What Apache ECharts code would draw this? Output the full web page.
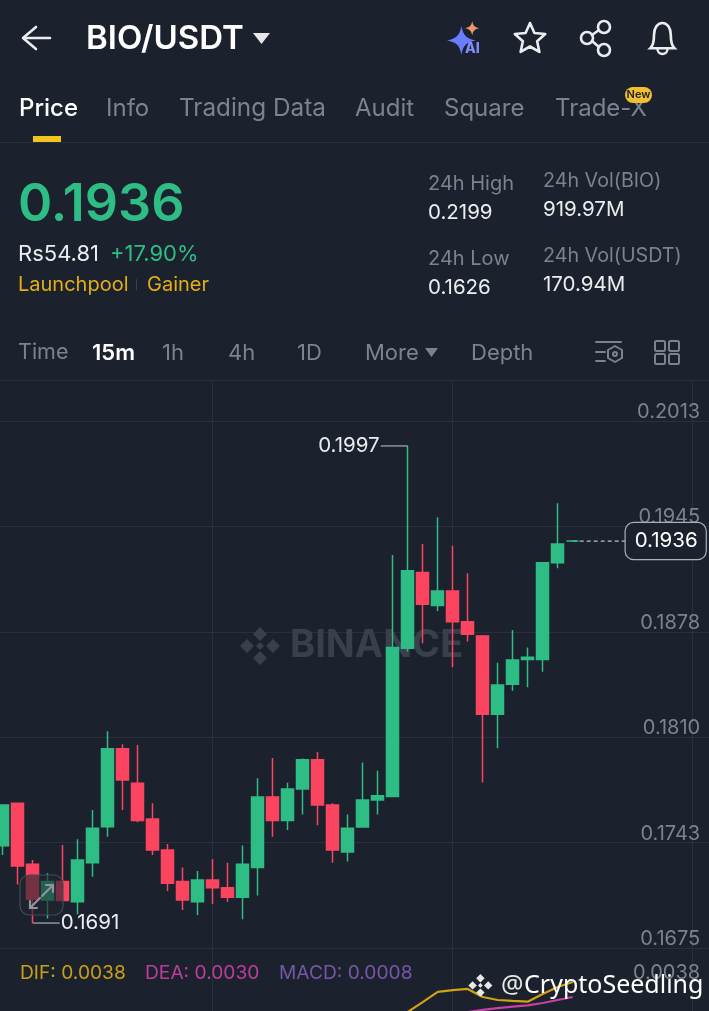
<!DOCTYPE html>
<html><head><meta charset="utf-8">
<style>html,body{margin:0;padding:0;background:#1c222d;overflow:hidden}#c{width:709px;height:1011px}</style>
<script src="https://cdn.jsdelivr.net/npm/echarts@6/dist/echarts.min.js"></script>
</head><body><div id="c"></div>
<script>
// [open, close, low, high] per 15m candle
const candles = [
[.17406,.17667,.17346,.17667],[.17678,.17276,.17158,.17678],[.17287,.17062,.16910,.17314],[.17058,.17176,.16940,.17229],
[.17176,.17054,.17054,.17411],[.17047,.17314,.16966,.17447],[.17297,.17518,.17207,.17635],[.17528,.18028,.17464,.18140],
[.18028,.17827,.17635,.18056],[.17806,.17567,.17556,.18052],[.17577,.17379,.17346,.17678],[.17379,.17165,.17116,.17417],
[.17176,.17058,.16994,.17267],[.17047,.17186,.16962,.17244],[.17186,.17137,.17032,.17319],[.17137,.17075,.17047,.17297],
[.17075,.17287,.16934,.17408],[.17267,.17718,.17086,.17838],[.17718,.17567,.17464,.17969],[.17567,.17770,.17507,.17810],
[.17770,.17958,.17607,.17966],[.17958,.17667,.17537,.18007],[.17667,.17379,.17297,.17678],[.17366,.17518,.17304,.17607],
[.17526,.17699,.17526,.17939],[.17699,.17727,.17607,.17887],[.17721,.18678,.17721,.19271],[.18672,.19170,.18651,.1997],
[.19159,.18954,.18704,.19341],[.18946,.19040,.18911,.19512],[.19040,.18843,.18550,.19330],[.18843,.18762,.18715,.19153],
[.18751,.18249,.17811,.18757],[.18249,.18437,.18031,.18580],[.18441,.18597,.18400,.18790],[.18601,.18614,.18422,.18678],
[.18601,.19221,.18522,.19221],[.19221,.19341,.19185,.19602],[.1936,.1936,.1936,.1936]];
const categories = ['c00','c01','c02','c03','c04','c05','c06','c07','c08','c09','c10','c11','c12','c13','c14','c15','c16','c17','c18','c19','c20','c21','c22','c23','c24','c25','c26','c27','c28','c29','c30','c31','c32','c33','c34','c35','c36','c37','c38','c39','c40','c41','c42','c43','c44','c45','c46','c47'];
const priceTicks = {min:.1675,max:.2013,step:.00676};
const lastPrice = [null,null,null,null,null,null,null,null,null,null,null,null,null,null,null,null,null,null,null,null,null,null,null,null,null,null,null,null,null,null,null,null,null,null,null,null,null,null,.1936,.1936,.1936,.1936,.1936];
const dif = [null,null,null,null,null,null,null,null,null,null,null,null,null,null,null,null,null,null,null,null,null,null,null,null,null,null,null,.00220,.00273,.00327,.00337,.00343,.0030,.00284,.00279,.00275,.00316,.00353,.0038];
const dea = [null,null,null,null,null,null,null,null,null,null,null,null,null,null,null,null,null,null,null,null,null,null,null,null,null,null,null,null,null,null,null,.0022,.00231,.00241,.00249,.00255,.00268,.00284,.0030];
const tabs = ['Price','Info','Trading Data','Audit','Square','Trade-X'];

const GREEN='#2EBD85',RED='#FB4560',GRAY='#7b8290',WHITE='#eaecef',YEL='#E3AE14',LINE='#2a303b';
const FF='Inter, "Noto Sans", sans-serif';
const STAR4='M12 0 C13.5 8 16 10.5 24 12 C16 13.5 13.5 16 12 24 C10.5 16 8 13.5 0 12 C8 10.5 10.5 8 12 0Z';
const BN2='M12 2.5 L15.5 6 L12 9.5 L8.5 6Z M5.5 8.5 L9 12 L5.5 15.5 L2 12Z M18.5 8.5 L22 12 L18.5 15.5 L15 12Z M12 10 L14 12 L12 14 L10 12Z M12 14.5 L15.5 18 L12 21.5 L8.5 18Z';
const BELL='M2 21 C5 18 5 14 5 10 C5 4 8 0 12 0 C16 0 19 4 19 10 C19 14 19 18 22 21Z';
echarts.graphic.registerShape('star4',echarts.graphic.extendPath(STAR4,{}));
echarts.graphic.registerShape('bnlogo',echarts.graphic.extendPath(BN2,{}));
echarts.graphic.registerShape('bell',echarts.graphic.extendPath(BELL,{}));

function t(text,x,y,size,fill,weight,z,ff,align){
  return {type:'text',z:z||50,silent:true,style:{text:text,x:x,y:y,fill:fill,font:(weight||400)+' '+size+'px '+(ff||FF),textAlign:align||'left',textVerticalAlign:'middle'}};
}
function st(shape,type,stroke,w,z,fill){
  return {type:type,z:z||50,silent:true,shape:shape,style:{stroke:stroke,lineWidth:w,fill:fill||'none',lineCap:'round',lineJoin:'round'}};
}
const pl=(pts,c,w,z)=>st({points:pts},'polyline',c,w,z);
const tri=(x1,x2,y1,y2,c)=>({type:'polygon',z:50,silent:true,shape:{points:[[x1,y1],[x2,y1],[(x1+x2)/2,y2]]},style:{fill:c}});
const pth=(name,x,y,s,fill,stroke,lw,z)=>({type:name,z:z||50,silent:true,x:x,y:y,scaleX:s,scaleY:s,style:{fill:fill||'none',stroke:stroke||'none',lineWidth:lw||0}});
function starPts(cx,cy,R,r){const p=[];for(let i=0;i<10;i++){const a=-Math.PI/2+i*Math.PI/5,q=i%2?r:R;p.push([cx+q*Math.cos(a),cy+q*Math.sin(a)]);}return p;}

const gfx=[
 pl([[50,38],[24,38]],WHITE,2.6), pl([[36,27],[23,38],[36,49]],WHITE,2.6),
 t('BIO/USDT',86,39,33,'#ffffff',600),
 tri(253,270,33,44,'#e4e6ea'),
 pth('star4',447,26,1.2,'#6a7dff'),
 pth('star4',465,21,0.6,'#f0966a'),
 t('AI',465,49,14,'#7f8cff',800),
 st({points:starPts(530,39,16,7.5)},'polygon',WHITE,2.6),
 st({cx:604,cy:27,r:6},'circle',WHITE,2.6), st({cx:587,cy:38,r:6},'circle',WHITE,2.6), st({cx:604,cy:50,r:6},'circle',WHITE,2.6),
 pl([[599,30],[592,35]],WHITE,2.6), pl([[592,41],[599,47]],WHITE,2.6),
 pth('bell',648,23,1.2,'none',WHITE,2.2),
 st({cx:662.5,cy:49,r:5,startAngle:0,endAngle:Math.PI},'arc',WHITE,2.4),
 t(tabs[0],19,109,24,'#ffffff',500),
 t(tabs[1],106,109,24,GRAY), t(tabs[2],179,109,24.3,GRAY), t(tabs[3],355,109,24,GRAY), t(tabs[4],444,109,24,GRAY), t(tabs[5],555,109,24,GRAY),
 {type:'rect',z:51,silent:true,shape:{x:625,y:87,width:27,height:16,r:8},style:{fill:'#F0C030'}},
 t('New',638.5,95,11,'#222',600,52,null,'center'),
 {type:'rect',z:50,silent:true,shape:{x:33,y:136,width:28,height:6},style:{fill:'#F0C61E'}},
 st({x1:0,y1:142.5,x2:709,y2:142.5},'line',LINE,1),
 t('0.1936',18,205,52,GREEN,600),
 t('Rs54.81',18,254,22,WHITE,400), t('+17.90%',110,254,22,GREEN,400),
 t('Launchpool',18,285,20,YEL,400), t('|',135,285,9,'#4a505c',400), t('Gainer',147,285,20,YEL,400),
 t('24h High',428,184,20,GRAY), t('0.2199',428,213,20.5,WHITE),
 t('24h Low',428,259,20,GRAY), t('0.1626',428,288,20.5,WHITE),
 t('24h Vol(BIO)',543,181,19.7,GRAY), t('919.97M',543,210,20.5,WHITE),
 t('24h Vol(USDT)',543,256,19.7,GRAY), t('170.94M',543,285,20.5,WHITE),
 t('Time',18,353,21.5,GRAY), t('15m',92,353,22,'#ffffff',600), t('1h',162,353,22,GRAY), t('4h',228,353,22,GRAY), t('1D',297,353,22,GRAY), t('More',365,353,22,GRAY),
 tri(425,438,348,357,GRAY), t('Depth',471,353,22,GRAY),
 pl([[596,342],[621,342]],GRAY,2), pl([[596,352],[605,352]],GRAY,2), pl([[596,361],[605,361]],GRAY,2),
 st({points:[[615,346],[622,350],[622,358],[615,362],[608,358],[608,350]]},'polygon',GRAY,2),
 st({cx:615,cy:354,r:2},'circle',GRAY,2),
 {type:'rect',z:50,silent:true,shape:{x:655,y:341,width:10,height:10,r:1.5},style:{stroke:GRAY,lineWidth:2,fill:'none'}},
 {type:'rect',z:50,silent:true,shape:{x:669,y:341,width:10,height:10,r:1.5},style:{stroke:GRAY,lineWidth:2,fill:'none'}},
 {type:'rect',z:50,silent:true,shape:{x:655,y:354,width:10,height:10,r:1.5},style:{stroke:GRAY,lineWidth:2,fill:'none'}},
 {type:'rect',z:50,silent:true,shape:{x:669,y:354,width:10,height:10,r:1.5},style:{stroke:GRAY,lineWidth:2,fill:'none'}},
 st({x1:0,y1:380.5,x2:709,y2:380.5},'line',LINE,1),
 pth('bnlogo',236,622,2,'#3a404b',null,0,1),
 t('BINANCE',290,646,38,'#3a404b',700,1),
 {type:'rect',z:60,silent:true,shape:{x:20,y:875,width:43,height:40,r:9},style:{fill:'rgba(32,37,46,0.62)',stroke:'#434a56',lineWidth:1.2}},
 pl([[42,896],[53,885]],'#8f959f',2.2,61), pl([[46,885],[53,885],[53,892]],'#8f959f',2.2,61),
 pl([[40,898],[30,908]],'#8f959f',2.2,61), pl([[30,901],[30,908],[37,908]],'#8f959f',2.2,61),
 t('DIF: 0.0038',20,973,19.2,'#C8A016'), t('DEA: 0.0030',145,973,19.2,'#BE3C9C'), t('MACD: 0.0008',279,973,19.2,'#7556A8'),
 pth('bnlogo',466,971,1.2,'#e8e8e8',null,0,70),
 t('@',501,986,25,'#e8e8e8',400,70,'"Noto Sans", sans-serif'),
 t('CryptoSeedling',524,986,25,'#ffffff',400,70,'"Noto Sans", sans-serif')
];

const chart=echarts.init(document.getElementById('c'),null,{renderer:'canvas'});
const hidden={show:false};
const GL=-4.8, GR=-6.2;
chart.setOption({
 animation:false,
 backgroundColor:'#1c222d',
 graphic:{elements:gfx},
 grid:[
  {left:GL,right:GR,top:421,height:527,outerBoundsMode:'none'},
  {left:GL,right:GR,top:982,height:37.5,outerBoundsMode:'none'},
  {left:GL,right:GR,top:381,height:630,outerBoundsMode:'none'}
 ],
 xAxis:[
  {type:'category',data:categories,gridIndex:0,show:false},
  {type:'category',data:categories,gridIndex:1,show:false},
  {type:'category',data:categories,gridIndex:2,axisLine:hidden,axisTick:hidden,axisLabel:hidden,
   splitLine:{show:true,alignWithLabel:true,interval:(i)=>i%16===14,lineStyle:{color:LINE,width:1}}}
 ],
 yAxis:[
  {type:'value',gridIndex:0,position:'right',min:priceTicks.min,max:priceTicks.max,interval:priceTicks.step,scale:true,
   axisLine:hidden,axisTick:hidden,
   axisLabel:{inside:true,margin:15,formatter:v=>v.toFixed(4),color:'#7b8290',fontSize:20,fontFamily:FF,verticalAlign:'bottom',lineHeight:18,showMinLabel:true,showMaxLabel:true},
   splitLine:{show:true,lineStyle:{color:LINE,width:1}}},
  {type:'value',gridIndex:1,position:'right',min:.0018,max:.0038,interval:.002,
   axisLine:hidden,axisTick:hidden,splitLine:hidden,
   axisLabel:{inside:true,margin:15,showMinLabel:false,formatter:v=>v>.003?v.toFixed(4):'',color:'#7b8290',fontSize:20,fontFamily:FF,verticalAlign:'bottom',lineHeight:18}},
  {type:'value',gridIndex:2,show:false}
 ],
 series:[
  {type:'line',name:'last',xAxisIndex:0,yAxisIndex:0,data:lastPrice,symbol:'none',silent:true,z:3,
   lineStyle:{color:'#b9bec7',width:1.2,type:[4,3]},
   markPoint:{silent:true,symbol:'circle',symbolSize:0,
    data:[{coord:[42,.1936],value:'0.1936'}],
    label:{show:true,position:'right',distance:-7,formatter:'{c}',color:'#ffffff',fontSize:20.5,fontFamily:FF,backgroundColor:'#1c222d',borderColor:'#aab0ba',borderWidth:1.2,borderRadius:8,padding:[8,8,7,9]}}},
  {type:'candlestick',name:'BIO/USDT',xAxisIndex:0,yAxisIndex:0,data:candles,barWidth:12.5,z:4,clip:true,
   itemStyle:{color:GREEN,color0:RED,borderColor:GREEN,borderColor0:RED,borderColorDoji:GREEN,borderWidth:1.5},
   markPoint:{silent:true,symbol:'circle',symbolSize:0,
    data:[
     {coord:[27,.1997],value:'0.1997',label:{position:'left',distance:0,formatter:'{v|{c}}{l|}'}},
     {coord:[2,.1691],value:'0.1691',label:{position:'right',distance:0,formatter:'{l|}{v|{c}}'}}
    ],
    label:{show:true,rich:{
     v:{color:WHITE,fontSize:20.5,fontFamily:FF,padding:[0,1,0,1]},
     l:{backgroundColor:'#aab0ba',height:1.2,width:27}}}}},
  {type:'line',name:'DIF',xAxisIndex:1,yAxisIndex:1,data:dif,symbol:'none',clip:false,lineStyle:{color:'#D0A216',width:2.2},z:3},
  {type:'line',name:'DEA',xAxisIndex:1,yAxisIndex:1,data:dea,symbol:'none',clip:false,lineStyle:{color:'#C83FA6',width:2.2},z:3}
 ]
});
</script></body></html>
